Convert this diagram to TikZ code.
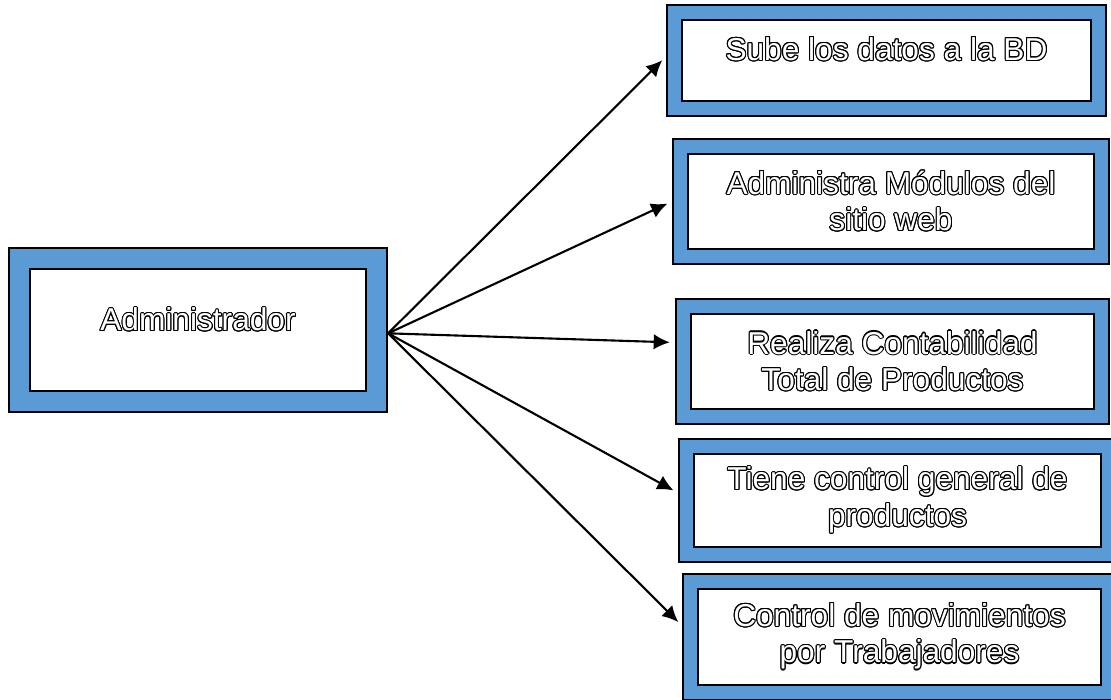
\documentclass[tikz,border=0pt]{standalone}
\usepackage{fontspec}
\setmainfont{Liberation Sans}
\usepackage[copies]{contour}
\contourlength{0.3pt}
\usetikzlibrary{arrows.meta}
\definecolor{azul}{RGB}{91,155,213}
\newcommand{\umriss}[1]{\contour{black}{#1}}

\begin{document}
\begin{tikzpicture}[x=0.01cm, y=-0.01cm,
  caja/.style={draw=black, line width=0.02cm, double=azul, double distance=0.13cm,
    fill=white, inner sep=0pt, outer sep=0.085cm},
  texto/.style={font=\fontsize{9}{10.4}\selectfont, align=center, text=white, inner sep=0pt},
  pfeil/.style={line width=0.6pt, black, arrows={-Latex[length=4.6pt,width=4.4pt]}, shorten >=0.05cm}]
\useasboundingbox (0,0) rectangle (1111,699);
% Kaesten
\node[caja, double distance=0.19cm, outer sep=0.115cm, minimum width=3.57cm, minimum height=1.43cm] (adm) at (198,330) {};
\node[caja, minimum width=4.24cm, minimum height=0.96cm] (b1) at (886.5,60.5) {};
\node[caja, minimum width=4.21cm, minimum height=1.10cm] (b2) at (891,201.5) {};
\node[caja, minimum width=4.18cm, minimum height=1.10cm] (b3) at (892.5,361.5) {};
\node[caja, minimum width=4.22cm, minimum height=1.08cm] (b4) at (897.5,500.5) {};
\node[caja, minimum width=4.18cm, minimum height=1.11cm] (b5) at (899.5,637) {};
% Texte
\node[texto, yshift=0.1cm] (t0) at (adm) {\umriss{Administrador}};
\node[texto, yshift=0.11cm] (t1) at (b1) {\umriss{Sube los datos a la BD}};
\node[texto] (t2) at (b2) {\umriss{Administra Módulos del}\\\umriss{sitio web}};
\node[texto] (t3) at (b3) {\umriss{Realiza Contabilidad}\\\umriss{Total de Productos}};
\node[texto] (t4) at (b4) {\umriss{Tiene control general de}\\\umriss{productos}};
\node[texto] (t5) at (b5) {\umriss{Control de movimientos}\\\umriss{por Trabajadores}};
% Pfeile
\draw[pfeil] (adm.-1) -- (b1.179);
\draw[pfeil] (adm.-1) -- (b2.west);
\draw[pfeil] (adm.-1) -- (b3.175);
\draw[pfeil] (adm.-1) -- (b4.178);
\draw[pfeil] (adm.-1) -- (b5.177);
\end{tikzpicture}
\end{document}
